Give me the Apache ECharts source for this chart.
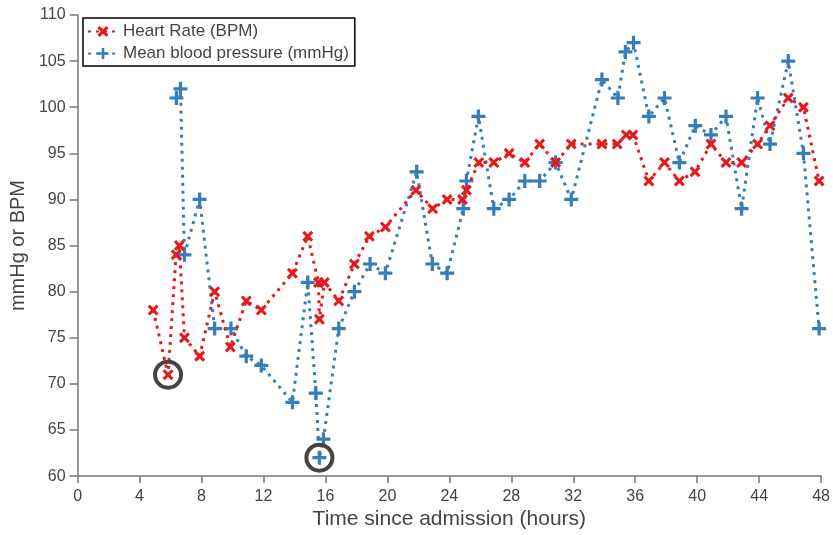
<!DOCTYPE html>
<html>
<head>
<meta charset="utf-8">
<script src="https://cdn.jsdelivr.net/npm/echarts@6/dist/echarts.min.js"></script>
<style>
  html, body { margin: 0; padding: 0; background: #fff; }
  #chart { width: 833px; height: 535px; }
</style>
</head>
<body>
<div id="chart"></div>
<script>
// Hours since admission and readings for each vital sign
var hrTimes = [4.88, 5.84, 6.36, 6.57, 6.9, 7.88, 8.85, 9.86, 10.89, 11.86, 13.87, 14.86,
  15.55, 15.61, 15.93, 16.86, 17.87, 18.84, 19.87, 21.84, 22.92, 23.86, 24.85, 25.1,
  25.9, 26.87, 27.86, 28.87, 29.83, 30.86, 31.87, 33.85, 34.84, 35.42, 35.85, 36.88,
  37.89, 38.85, 39.86, 40.89, 41.86, 42.87, 43.9, 44.7, 45.88, 46.86, 47.87];
var hrValues = [78, 71, 84, 85, 75, 73, 80, 74, 79, 78, 82, 86,
  81, 77, 81, 79, 83, 86, 87, 91, 89, 90, 90, 91,
  94, 94, 95, 94, 96, 94, 96, 96, 96, 97, 97, 92,
  94, 92, 93, 96, 94, 94, 96, 98, 101, 100, 92];

var bpTimes = [6.38, 6.64, 6.9, 7.88, 8.85, 9.9, 10.89, 11.86, 13.87, 14.86, 15.38, 15.61,
  15.87, 16.86, 17.87, 18.88, 19.87, 21.89, 22.9, 23.86, 24.9, 25.1, 25.88, 26.87,
  27.86, 28.87, 29.83, 30.86, 31.87, 33.85, 34.88, 35.37, 35.89, 36.88, 37.89, 38.85,
  39.88, 40.89, 41.86, 42.87, 43.9, 44.7, 45.88, 46.86, 47.87];
var bpValues = [101, 102, 84, 90, 76, 76, 73, 72, 68, 81, 69, 62,
  64, 76, 80, 83, 82, 93, 83, 82, 89, 92, 99, 89,
  90, 92, 92, 94, 90, 103, 101, 106, 107, 99, 101, 94,
  98, 97, 99, 89, 101, 96, 105, 95, 76];

var xTicks = [0, 4, 8, 12, 16, 20, 24, 28, 32, 36, 40, 44, 48];
var yTicks = [60, 65, 70, 75, 80, 85, 90, 95, 100, 105, 110];

function pairs(t, v) {
  return t.map(function (x, i) { return [x, v[i]]; });
}

var RED = '#e41a1c';
var BLUE = '#377eb8';
var CROSS = 'path://M0,2L2,0L5,3L8,0L10,2L7,5L10,8L8,10L5,7L2,10L0,8L3,5Z';
var PLUS = 'path://M5,0H8V5H13V8H8V13H5V8H0V5H5Z';
var FONT = 'Liberation Sans, Arial, Helvetica, sans-serif';
var DOTS = [3, 5];

// ring drawn around the lowest reading of a series
function lowestRing() {
  return {
    symbol: 'circle',
    symbolSize: 26,
    silent: true,
    label: { show: false },
    itemStyle: { color: 'rgba(0,0,0,0)', borderColor: '#444', borderWidth: 4 },
    data: [{ type: 'min', valueDim: 'y' }]
  };
}

var chart = echarts.init(document.getElementById('chart'), null, { renderer: 'canvas' });
chart.setOption({
  animation: false,
  backgroundColor: '#fff',
  textStyle: { fontFamily: FONT },
  grid: { left: 77, right: 11, top: 15, bottom: 53, containLabel: false },
  legend: {
    orient: 'vertical',
    left: 83,
    top: 18,
    padding: [5, 6, 4, 4],
    itemWidth: 30,
    itemHeight: 14,
    itemGap: 5,
    backgroundColor: '#fff',
    borderColor: '#000',
    borderWidth: 1.5,
    textStyle: { fontSize: 17, color: '#444', fontFamily: FONT },
    data: ['Heart Rate (BPM)', 'Mean blood pressure (mmHg)']
  },
  xAxis: {
    type: 'value',
    min: 0, max: 48, interval: 4,
    name: 'Time since admission (hours)',
    nameLocation: 'middle',
    nameGap: 27,
    nameTextStyle: { fontSize: 21, color: '#444', fontFamily: FONT },
    axisLine: { show: true, lineStyle: { color: '#777', width: 1.5 } },
    axisTick: { show: true, length: 7, lineStyle: { color: '#777', width: 1.5 } },
    axisLabel: {
      margin: 12, fontSize: 16, color: '#444', fontFamily: FONT,
      formatter: function (v) { return xTicks.indexOf(v) >= 0 ? String(v) : ''; }
    },
    splitLine: { show: false }
  },
  yAxis: {
    type: 'value',
    min: 60, max: 110, interval: 5,
    name: 'mmHg or BPM',
    nameLocation: 'middle',
    nameGap: 44,
    nameTextStyle: { fontSize: 20, color: '#444', fontFamily: FONT },
    axisLine: { show: true, lineStyle: { color: '#777', width: 1.5 } },
    axisTick: { show: true, length: 8, lineStyle: { color: '#777', width: 1.5 } },
    axisLabel: {
      margin: 12, fontSize: 16, color: '#444', fontFamily: FONT,
      formatter: function (v) { return yTicks.indexOf(v) >= 0 ? String(v) : ''; }
    },
    splitLine: { show: false }
  },
  series: [
    {
      name: 'Heart Rate (BPM)',
      type: 'line',
      data: pairs(hrTimes, hrValues),
      symbol: CROSS,
      symbolSize: 11,
      showAllSymbol: true,
      itemStyle: { color: RED },
      lineStyle: { color: RED, width: 3, type: DOTS },
      markPoint: lowestRing(),
      z: 3
    },
    {
      name: 'Mean blood pressure (mmHg)',
      type: 'line',
      data: pairs(bpTimes, bpValues),
      symbol: PLUS,
      symbolSize: 14,
      showAllSymbol: true,
      itemStyle: { color: BLUE },
      lineStyle: { color: BLUE, width: 3, type: DOTS },
      markPoint: lowestRing(),
      z: 2
    }
  ]
});
</script>
</body>
</html>
